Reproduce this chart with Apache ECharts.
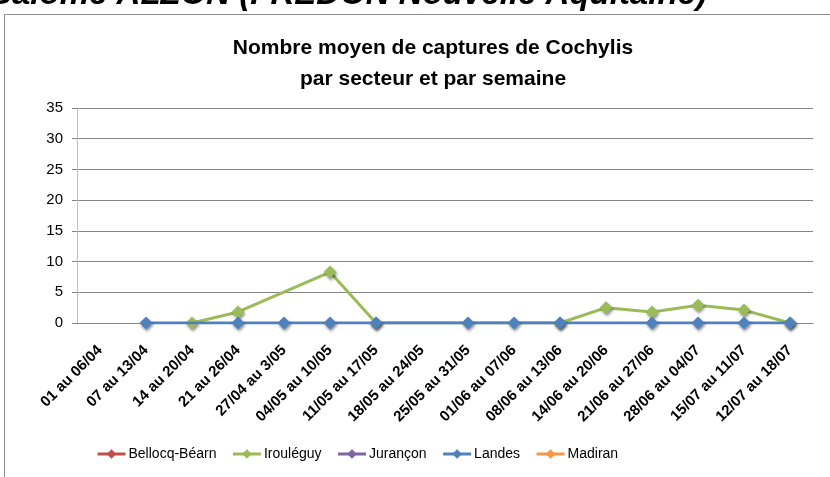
<!DOCTYPE html>
<html><head><meta charset="utf-8">
<script src="https://cdn.jsdelivr.net/npm/echarts@6/dist/echarts.min.js"></script>
<style>html,body{margin:0;padding:0;background:#fff}#c{width:830px;height:477px}</style>
</head><body><div id="c"></div>
<script>
var categories = ['01 au 06/04','07 au 13/04','14 au 20/04','21 au 26/04','27/04 au 3/05','04/05 au 10/05','11/05 au 17/05','18/05 au 24/05','25/05 au 31/05','01/06 au 07/06','08/06 au 13/06','14/06 au 20/06','21/06 au 27/06','28/06 au 04/07','15/07 au 11/07','12/07 au 18/07'];
var seriesNames = ['Bellocq-Béarn','Irouléguy','Jurançon','Landes','Madiran'];
var bellocq = [null,null,null,null,null,null,null,null,null,null,null,null,null,null,null,null];
var irouleguy = [null,null,0,1.8,null,8.3,0,null,null,null,0,2.5,1.8,2.9,2.1,0];
var jurancon = [null,null,null,null,null,null,null,null,null,null,null,null,null,null,null,null];
var landes = [null,0,null,0,0,0,0,null,0,0,0,null,0,0,0,0];
var madiran = [null,null,null,null,null,null,null,null,null,null,null,null,null,null,null,null];
var yTicks = {min:0, max:35, interval:5};
var colors = ['#C0504D','#9BBB59','#8064A2','#4F81BD','#F79646'];
var dataSets = [bellocq, irouleguy, jurancon, landes, madiran];

var chart = echarts.init(document.getElementById('c'), null, {renderer:'canvas'});
var series = seriesNames.map(function(n,i){
  return {
    name:n, type:'line', data:dataSets[i], connectNulls:true,
    symbol:'diamond', symbolSize:13,
    lineStyle:{width:3, color:colors[i]},
    itemStyle:{color:colors[i], shadowBlur:3, shadowColor:'rgba(0,0,0,0.45)', shadowOffsetY:2, shadowOffsetX:1},
    emphasis:{disabled:true}, animation:false, z: 2+i
  };
});
chart.setOption({
  animation:false,
  color:colors,
  graphic:[
    {type:'text', left:-10, top:-22, style:{text:'Salome ALZON (FREDON Nouvelle Aquitaine)', font:'italic bold 33px "Liberation Sans"', fill:'#000'}},
    {type:'line', shape:{x1:4.5,y1:14.5,x2:830,y2:14.5}, style:{stroke:'#8c8c8c', lineWidth:1}},
    {type:'line', shape:{x1:4.5,y1:14.5,x2:4.5,y2:477}, style:{stroke:'#8c8c8c', lineWidth:1}}
  ],
  title:{
    text:'Nombre moyen de captures de Cochylis\npar secteur et par semaine',
    left:428, top:28, textAlign:'center',
    textStyle:{fontFamily:'Liberation Sans', fontWeight:'bold', fontSize:21, lineHeight:31, color:'#000'}
  },
  legend:{
    left:91, top:442, itemWidth:28, itemHeight:12, itemGap:15,
    lineStyle:{width:3},
    textStyle:{fontFamily:'Liberation Sans', fontSize:14, color:'#000', padding:[0,0,0,-2]},
    data:seriesNames
  },
  grid:{left:77, right:17, top:108, bottom:154, containLabel:false},
  xAxis:{
    type:'category', data:categories, boundaryGap:true,
    axisLine:{show:true, lineStyle:{color:'#868686'}},
    axisTick:{show:false},
    axisLabel:{interval:0, rotate:45, margin:25, fontFamily:'Liberation Sans', fontWeight:'bold', fontSize:15, color:'#000'}
  },
  yAxis:{
    type:'value', min:yTicks.min, max:yTicks.max, interval:yTicks.interval,
    axisLine:{show:true, lineStyle:{color:'#BFBFBF', width:1}},
    axisTick:{show:true, length:5, lineStyle:{color:'#868686'}},
    splitLine:{lineStyle:{color:'#868686', width:1}},
    axisLabel:{margin:14, fontFamily:'Liberation Sans', fontSize:15, color:'#000'}
  },
  series:series
});
</script></body></html>
